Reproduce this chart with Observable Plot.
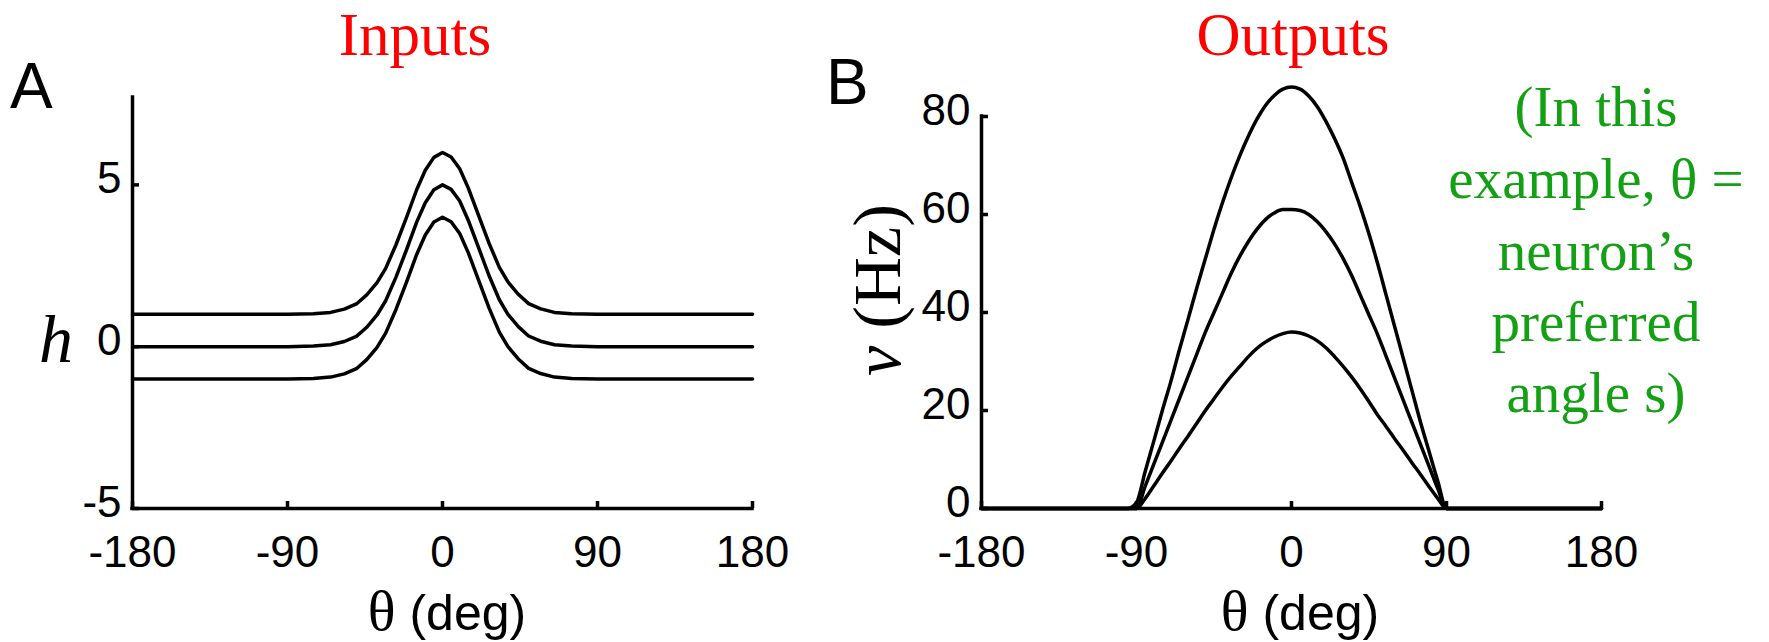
<!DOCTYPE html>
<html>
<head>
<meta charset="utf-8">
<script src="https://cdn.jsdelivr.net/npm/d3@7"></script>
<script src="https://cdn.jsdelivr.net/npm/@observablehq/plot@0.6"></script>
<style>
  html, body { margin: 0; padding: 0; background: #fff; }
  #wrap { position: relative; width: 1769px; height: 642px; overflow: hidden; background: #fff; }
  #wrap > svg { position: absolute; top: 0; }
</style>
</head>
<body>
<div id="wrap"></div>
<script>
// ---------- data ----------
const xTicks = [-180, -90, 0, 90, 180];
const yTicksA = [-5, 0, 5];
const yTicksB = [0, 20, 40, 60, 80];

// Panel A: inputs h(θ)
const thetaA = [-180, -120, -90, -75, -65, -57, -50, -44, -38, -33, -27, -21, -15, -10, -5, 0, 5, 10, 15, 21, 27, 33, 38, 44, 50, 57, 65, 75, 90, 120, 180];
const hUpper  = [1, 1, 1, 1.02, 1.06, 1.16, 1.32, 1.6, 1.98, 2.42, 3.15, 3.98, 4.85, 5.45, 5.85, 6, 5.86, 5.5, 4.9, 4.05, 3.2, 2.45, 2.0, 1.62, 1.33, 1.17, 1.06, 1.02, 1, 1, 1];
const hMiddle = [0, 0, 0, 0.02, 0.06, 0.16, 0.32, 0.6, 0.98, 1.42, 2.15, 2.98, 3.85, 4.45, 4.85, 5, 4.86, 4.5, 3.9, 3.05, 2.2, 1.45, 1.0, 0.62, 0.33, 0.17, 0.06, 0.02, 0, 0, 0];
const hLower  = [-1, -1, -1, -0.98, -0.94, -0.84, -0.68, -0.4, -0.02, 0.42, 1.15, 1.98, 2.85, 3.45, 3.85, 4, 3.86, 3.5, 2.9, 2.05, 1.2, 0.45, 0, -0.38, -0.67, -0.83, -0.94, -0.98, -1, -1, -1];

// Panel B: outputs v(θ) in Hz
const thetaB = [-180, -95, -90, -85, -80, -75, -70, -65, -60, -55, -50, -45, -40, -35, -30, -25, -20, -15, -10, -5, 0, 5, 10, 15, 20, 25, 30, 35, 40, 45, 50, 55, 60, 65, 70, 75, 80, 85, 90, 95, 180];
const vHigh = [0, 0, 1.2, 7.5, 13.7, 20, 26, 32.5, 38.7, 45, 51, 57, 62.5, 67.5, 72, 76, 79.5, 82.3, 84.3, 85.6, 86, 85.6, 84.2, 82, 79, 75.5, 71.5, 66.5, 61.5, 56, 50, 43.5, 37, 30.5, 24, 17.5, 11.5, 5.5, 0, 0, 0];
const vMid  = [0, 0, 0, 4.5, 9, 13.5, 18, 22.5, 27, 31.5, 36, 40, 44, 48, 51.5, 54.5, 57, 59, 60.3, 61, 61, 60.8, 60, 58.5, 56.5, 54, 51, 47.5, 43.5, 39.5, 35.5, 31, 26.5, 22, 17.5, 13, 8.5, 4, 0, 0, 0];
const vLow  = [0, 0, 0, 2, 4.6, 7.2, 9.7, 12.3, 14.8, 17.4, 20, 22.4, 24.8, 27, 29, 31, 32.7, 34, 35, 35.7, 36, 35.8, 35.2, 34.2, 32.8, 31, 29, 26.8, 24.4, 21.8, 19.1, 16.7, 14.2, 11.8, 9.3, 6.9, 4.4, 2, 0, 0, 0];

const seriesA = [["upper", hUpper], ["middle", hMiddle], ["lower", hLower]];
const seriesB = [["high", vHigh], ["mid", vMid], ["low", vLow]];
const tableA = seriesA.flatMap(([name, vals]) => thetaA.map((t, i) => ({theta: t, h: vals[i], series: name})));
const tableB = seriesB.flatMap(([name, vals]) => thetaB.map((t, i) => ({theta: t, v: vals[i], series: name})));

// ---------- drawing ----------
const SANS = "'Liberation Sans', Arial, Helvetica, sans-serif";
const SERIF = "'Liberation Serif', 'Times New Roman', serif";
const LW = 3.5;
const TICK = 7;
const TICKFONT = 44;

function panel({width, mL, mR, mT, mB, yDomain, yTicks, data, yField, curve}) {
  const frameW = width - mL - mR;
  const frameH = 642 - mT - mB;
  return Plot.plot({
    width, height: 642,
    marginLeft: mL, marginRight: mR, marginTop: mT, marginBottom: mB,
    style: {background: "transparent", fontFamily: SANS, fontSize: TICKFONT + "px", color: "black", overflow: "visible"},
    x: {domain: [-180, 180]},
    y: {domain: yDomain},
    marks: [
      Plot.axisX({ticks: xTicks, tickSize: 0, tickPadding: 27, tickFormat: d => String(d), label: null, fontSize: TICKFONT, fontFamily: SANS}),
      Plot.axisY({ticks: yTicks, tickSize: 0, tickPadding: 11, dy: -6, tickFormat: d => String(d), label: null, fontSize: TICKFONT, fontFamily: SANS}),
      Plot.tickX(xTicks, {x: d => d, insetTop: frameH - TICK, stroke: "black", strokeWidth: LW}),
      Plot.tickY(yTicks, {y: d => d, insetRight: frameW - TICK, stroke: "black", strokeWidth: LW}),
      Plot.ruleX([-180], {stroke: "black", strokeWidth: LW, strokeLinecap: "square"}),
      Plot.ruleY([yDomain[0]], {stroke: "black", strokeWidth: LW, strokeLinecap: "square"}),
      Plot.line(data, {x: "theta", y: yField, z: "series", stroke: "black", strokeWidth: LW, strokeLinejoin: "round", curve})
    ]
  });
}

const plotA = panel({width: 800, mL: 132, mR: 48, mT: 97, mB: 134, yDomain: [-5, 7.7], yTicks: yTicksA, data: tableA, yField: "h", curve: "linear"});
const plotB = panel({width: 969, mL: 181, mR: 168, mT: 116, mB: 134, yDomain: [0, 80], yTicks: yTicksB, data: tableB, yField: "v", curve: "monotone-x"});
plotA.style.left = "0px";
plotB.style.left = "800px";

const wrap = document.getElementById("wrap");
wrap.appendChild(plotA);
wrap.appendChild(plotB);

// ---------- annotations ----------
const ns = "http://www.w3.org/2000/svg";
const ov = document.createElementNS(ns, "svg");
ov.setAttribute("width", 1769);
ov.setAttribute("height", 642);
ov.style.left = "0px";
wrap.appendChild(ov);

function txt(parts, attrs) {
  const t = document.createElementNS(ns, "text");
  for (const [k, v] of Object.entries(attrs)) t.setAttribute(k, v);
  for (const p of parts) {
    const s = document.createElementNS(ns, "tspan");
    s.textContent = p.text;
    for (const [k, v] of Object.entries(p)) if (k !== "text") s.setAttribute(k, v);
    t.appendChild(s);
  }
  ov.appendChild(t);
  return t;
}

const RED = "#ff0000";
const GREEN = "#14a014";

txt([{text: "Inputs"}], {x: 415, y: 55, "text-anchor": "middle", "font-family": SERIF, "font-size": 61, fill: RED});
txt([{text: "Outputs"}], {x: 1293, y: 55, "text-anchor": "middle", "font-family": SERIF, "font-size": 61, fill: RED});
txt([{text: "A"}], {x: 10, y: 108, "font-family": SANS, "font-size": 64, fill: "black"});
txt([{text: "B"}], {x: 826, y: 104, "font-family": SANS, "font-size": 64, fill: "black"});
txt([{text: "h"}], {x: 56, y: 362, "text-anchor": "middle", "font-family": SERIF, "font-style": "italic", "font-size": 68, fill: "black"});
txt([{text: "v", "font-style": "italic"}, {text: " (Hz)"}], {x: 0, y: 0, transform: "translate(900,290) rotate(-90)", "text-anchor": "middle", "font-family": SERIF, "font-size": 68, fill: "black"});

txt([{text: "θ", "font-family": SERIF, "font-size": 58}, {text: " (deg)", "font-family": SANS, "font-size": 50}], {x: 447, y: 630, "text-anchor": "middle", fill: "black"});
txt([{text: "θ", "font-family": SERIF, "font-size": 58}, {text: " (deg)", "font-family": SANS, "font-size": 50}], {x: 1300, y: 630, "text-anchor": "middle", fill: "black"});

const greenLines = ["(In this", "example, θ =", "neuron’s", "preferred", "angle s)"];
const greenBase = [126, 198, 270, 341, 412];
greenLines.forEach((l, i) => txt([{text: l}], {x: 1596, y: greenBase[i], "text-anchor": "middle", "font-family": SERIF, "font-size": 57, fill: GREEN}));
</script>
</body>
</html>
